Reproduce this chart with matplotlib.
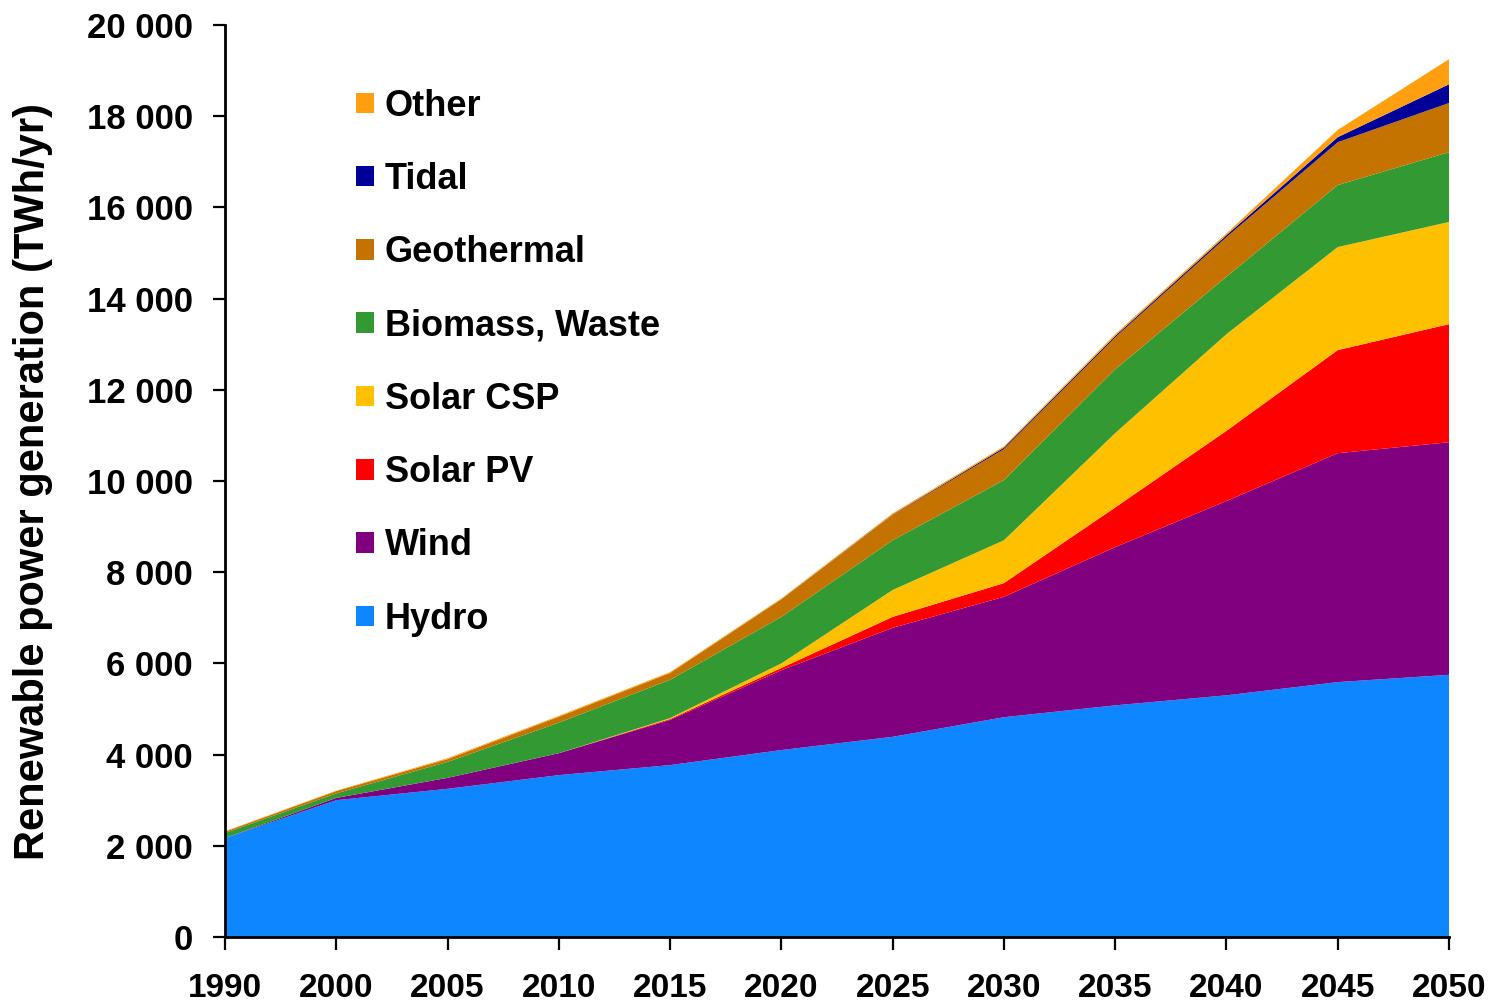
import matplotlib
matplotlib.use("Agg")
import matplotlib.pyplot as plt
from matplotlib.patches import Patch
from matplotlib.ticker import FuncFormatter

years = ["1990", "2000", "2005", "2010", "2015", "2020", "2025", "2030", "2035", "2040", "2045", "2050"]
hydro      = [2170, 3000, 3250, 3550, 3770, 4100, 4390, 4820, 5080, 5300, 5590, 5750]
wind       = [0, 50, 240, 480, 990, 1750, 2390, 2640, 3470, 4260, 5020, 5100]
solar_pv   = [0, 0, 0, 0, 20, 50, 240, 300, 870, 1540, 2260, 2590]
solar_csp  = [0, 0, 0, 0, 20, 100, 590, 940, 1630, 2120, 2260, 2240]
biomass    = [110, 100, 350, 670, 840, 1020, 1090, 1320, 1400, 1260, 1360, 1530]
geothermal = [30, 50, 60, 130, 150, 380, 550, 680, 700, 870, 940, 1080]
tidal      = [0, 0, 0, 0, 0, 5, 10, 30, 30, 40, 110, 410]
other      = [10, 10, 20, 20, 20, 20, 30, 30, 40, 40, 160, 550]

labels = ["Hydro", "Wind", "Solar PV", "Solar CSP", "Biomass, Waste", "Geothermal", "Tidal", "Other"]
colors = ["#0D86FF", "#800080", "#FF0000", "#FFC000", "#339933", "#C47300", "#000099", "#FF9F10"]
series = [hydro, wind, solar_pv, solar_csp, biomass, geothermal, tidal, other]

plt.rcParams['font.family'] = ['Liberation Sans', 'DejaVu Sans']

fig = plt.figure(figsize=(15.01, 10.07), dpi=100)
ax = fig.add_axes([225/1501, 70/1007, (1449-225)/1501, (937-25)/1007])

x = list(range(len(years)))
ax.stackplot(x, *series, colors=colors, labels=labels, linewidth=0)

ax.set_xlim(0, len(years) - 1)
ax.set_ylim(0, 20000)
ax.set_xticks(x)
ax.set_xticklabels(years)
ax.set_yticks(range(0, 20001, 2000))
ax.yaxis.set_major_formatter(FuncFormatter(lambda v, p: f"{int(v):,}".replace(",", " ")))

for s in ["top", "right"]:
    ax.spines[s].set_visible(False)
for s in ["left", "bottom"]:
    ax.spines[s].set_linewidth(2)
    ax.spines[s].set_color("black")

ax.tick_params(axis="both", direction="out", length=9, width=1.6, labelsize=25)
ax.tick_params(axis="x", pad=17, labelsize=24)
ax.tick_params(axis="y", pad=14)
for lab in ax.get_xticklabels() + ax.get_yticklabels():
    lab.set_fontweight("bold")

ax.set_ylabel("Renewable power generation (TWh/yr)", fontsize=30, fontweight="bold", labelpad=10)
ax.yaxis.set_label_coords(-172/1224, 0.5)

handles = [Patch(facecolor=c, edgecolor="none") for c in colors]
leg = ax.legend(handles[::-1], labels[::-1], loc="upper left",
                bbox_to_anchor=(0.095, 0.946), frameon=False,
                prop={"size": 26, "weight": "bold"},
                handlelength=0.5, handleheight=0.5, handletextpad=0.3,
                labelspacing=1.06, borderaxespad=0.0)

fig.savefig("out.png", dpi=100)
